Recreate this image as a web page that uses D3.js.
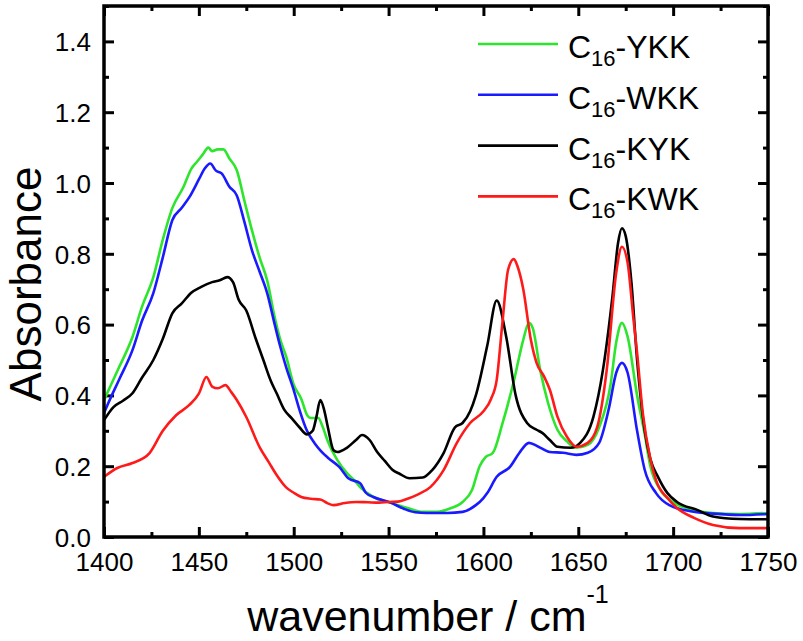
<!DOCTYPE html>
<html>
<head>
<meta charset="utf-8">
<script src="https://cdn.jsdelivr.net/npm/d3@7"></script>
<style>
  body { margin: 0; background: #fff; }
  svg text { font-family: "Liberation Sans", Arial, sans-serif; fill: #000; }
</style>
</head>
<body>
<svg id="mainFrame"></svg>
<script>
// spectra: [wavenumber, absorbance]
const ykk = [[1400,0.385],[1402,0.41],[1408,0.48],[1415,0.565],[1420,0.65],[1426,0.734],[1431,0.84],
  [1436,0.929],[1442,0.99],[1446,1.04],[1449,1.06],[1452,1.08],[1455,1.10],[1457,1.09],[1460,1.095],
  [1463,1.095],[1466,1.07],[1470,1.036],[1474,0.95],[1478,0.866],[1482,0.79],[1486,0.725],[1490,0.62],
  [1493,0.556],[1496,0.51],[1500,0.43],[1504,0.39],[1507,0.345],[1509,0.336],[1513,0.336],[1515,0.315],
  [1518,0.27],[1523,0.217],[1528,0.181],[1532,0.16],[1535,0.141],[1542,0.113],[1551,0.097],[1560,0.082],
  [1568,0.071],[1576,0.071],[1582,0.08],[1589,0.099],[1594,0.133],[1598,0.20],[1601,0.225],[1605,0.238],
  [1610,0.32],[1616,0.44],[1621,0.557],[1624,0.605],[1626,0.59],[1630,0.47],[1634,0.38],[1639,0.303],
  [1644,0.27],[1649,0.252],[1655,0.26],[1661,0.31],[1667,0.43],[1670,0.55],[1673,0.605],[1676,0.566],
  [1681,0.40],[1685,0.29],[1688,0.20],[1693,0.135],[1700,0.098],[1709,0.078],[1721,0.068],[1735,0.065],[1750,0.068]];

const wkk = [[1400,0.35],[1402,0.375],[1408,0.445],[1415,0.528],[1420,0.61],[1426,0.689],[1431,0.79],
  [1436,0.895],[1441,0.93],[1445,0.96],[1450,1.01],[1453,1.04],[1456,1.055],[1459,1.035],[1462,1.027],
  [1466,0.99],[1470,0.965],[1474,0.89],[1478,0.81],[1482,0.75],[1486,0.689],[1490,0.60],[1493,0.536],
  [1496,0.48],[1500,0.415],[1503,0.36],[1507,0.30],[1511,0.265],[1514,0.245],[1518,0.224],[1524,0.198],
  [1529,0.165],[1535,0.152],[1538,0.125],[1542,0.113],[1551,0.097],[1558,0.08],[1564,0.07],[1570,0.068],
  [1581,0.068],[1589,0.071],[1596,0.09],[1600,0.11],[1602,0.124],[1607,0.17],[1614,0.198],[1619,0.238],
  [1624,0.266],[1629,0.255],[1635,0.24],[1642,0.238],[1649,0.232],[1655,0.238],[1661,0.266],[1666,0.36],
  [1670,0.464],[1673,0.492],[1676,0.464],[1681,0.30],[1685,0.19],[1691,0.124],[1698,0.09],[1710,0.072],
  [1721,0.066],[1735,0.062],[1750,0.065]];

const kyk = [[1400,0.33],[1405,0.367],[1410,0.385],[1415,0.406],[1420,0.45],[1426,0.50],[1431,0.56],
  [1436,0.632],[1441,0.66],[1446,0.69],[1451,0.706],[1457,0.72],[1461,0.725],[1465,0.734],[1468,0.72],
  [1471,0.67],[1475,0.64],[1480,0.56],[1484,0.50],[1488,0.44],[1491,0.406],[1495,0.36],[1499,0.335],
  [1503,0.31],[1507,0.29],[1510,0.30],[1512,0.34],[1514,0.387],[1516,0.36],[1518,0.31],[1521,0.245],
  [1523,0.24],[1528,0.252],[1533,0.275],[1536,0.288],[1540,0.274],[1544,0.24],[1548,0.215],[1552,0.19],
  [1556,0.178],[1561,0.166],[1568,0.168],[1573,0.189],[1579,0.237],[1585,0.31],[1589,0.322],[1593,0.355],
  [1596,0.40],[1602,0.54],[1607,0.668],[1612,0.566],[1617,0.40],[1623,0.322],[1628,0.303],[1631,0.294],
  [1635,0.274],[1639,0.255],[1646,0.252],[1651,0.266],[1658,0.34],[1663,0.472],[1668,0.679],[1671,0.832],
  [1673,0.872],[1675,0.85],[1678,0.72],[1681,0.50],[1685,0.30],[1688,0.22],[1692,0.17],[1697,0.124],
  [1702,0.099],[1713,0.076],[1721,0.058],[1735,0.051],[1750,0.05]];

const kwk = [[1400,0.17],[1407,0.195],[1415,0.209],[1424,0.237],[1431,0.30],[1438,0.344],[1445,0.373],
  [1450,0.405],[1454,0.452],[1457,0.425],[1460,0.42],[1464,0.429],[1467,0.41],[1470,0.387],[1475,0.339],
  [1482,0.254],[1487,0.21],[1491,0.175],[1496,0.14],[1500,0.125],[1504,0.113],[1509,0.108],[1514,0.106],
  [1518,0.095],[1521,0.09],[1527,0.096],[1533,0.099],[1539,0.098],[1545,0.097],[1550,0.099],[1555,0.10],
  [1560,0.108],[1565,0.119],[1572,0.141],[1579,0.189],[1586,0.266],[1593,0.322],[1600,0.355],[1604,0.39],
  [1607,0.444],[1610,0.605],[1613,0.755],[1616,0.785],[1618,0.764],[1621,0.70],[1625,0.557],[1628,0.492],
  [1632,0.453],[1635,0.416],[1639,0.34],[1644,0.283],[1649,0.255],[1655,0.266],[1660,0.311],[1665,0.472],
  [1670,0.747],[1673,0.82],[1676,0.775],[1679,0.62],[1681,0.52],[1684,0.35],[1688,0.22],[1691,0.16],
  [1697,0.11],[1702,0.082],[1711,0.054],[1721,0.034],[1735,0.025],[1750,0.025]];

const seriesNames = ['YKK', 'WKK', 'KYK', 'KWK'];
const seriesColors = ['#2ee52e', '#1a1aff', '#000000', '#ff1a1a'];
const seriesData = [ykk, wkk, kyk, kwk];

const xTicks = [1400, 1450, 1500, 1550, 1600, 1650, 1700, 1750];
const xMinor = [1425, 1475, 1525, 1575, 1625, 1675, 1725];
const yTicks = [0.0, 0.2, 0.4, 0.6, 0.8, 1.0, 1.2, 1.4];
const yMinor = [0.1, 0.3, 0.5, 0.7, 0.9, 1.1, 1.3, 1.5];

const width = 803, height = 641;
const margin = { top: 6, right: 35, bottom: 104, left: 104 };
const plotW = width - margin.left - margin.right;
const plotH = height - margin.top - margin.bottom;

const svg = d3.select('#mainFrame')
  .attr('width', width)
  .attr('height', height);

const g = svg.append('g')
  .attr('transform', `translate(${margin.left},${margin.top})`);

const x = d3.scaleLinear().domain([1400, 1750]).range([0, plotW]);
const y = d3.scaleLinear().domain([0, 1.5]).range([plotH, 0]);

// ticks, all pointing inward
const tickAxis = (axis, vals, size) => axis.tickValues(vals).tickSize(size).tickFormat('');
const styleTicks = sel => {
  sel.select('.domain').remove();
  sel.selectAll('line').attr('stroke', '#000').attr('stroke-width', 3);
};

g.append('g').attr('transform', `translate(0,${plotH})`)
  .call(tickAxis(d3.axisBottom(x), xTicks, -10)).call(styleTicks);
g.append('g').attr('transform', `translate(0,${plotH})`)
  .call(tickAxis(d3.axisBottom(x), xMinor, -5)).call(styleTicks);
g.append('g')
  .call(tickAxis(d3.axisTop(x), xTicks, -10)).call(styleTicks);
g.append('g')
  .call(tickAxis(d3.axisTop(x), xMinor, -5)).call(styleTicks);
g.append('g')
  .call(tickAxis(d3.axisLeft(y), yTicks, -10)).call(styleTicks);
g.append('g')
  .call(tickAxis(d3.axisLeft(y), yMinor, -5)).call(styleTicks);
g.append('g').attr('transform', `translate(${plotW},0)`)
  .call(tickAxis(d3.axisRight(y), yTicks, -10)).call(styleTicks);
g.append('g').attr('transform', `translate(${plotW},0)`)
  .call(tickAxis(d3.axisRight(y), yMinor, -5)).call(styleTicks);

// tick labels
const xLab = g.append('g').attr('transform', `translate(0,${plotH})`)
  .call(d3.axisBottom(x).tickValues(xTicks).tickSize(0).tickFormat(d3.format('d')));
xLab.select('.domain').remove();
xLab.selectAll('text')
  .attr('y', 34).attr('dy', 0)
  .style('font-size', '26px');

const yLab = g.append('g')
  .call(d3.axisLeft(y).tickValues(yTicks).tickSize(0).tickFormat(d3.format('.1f')));
yLab.select('.domain').remove();
yLab.selectAll('text')
  .attr('x', -13).attr('dy', '0.36em')
  .style('font-size', '26px');

// curves
g.append('clipPath').attr('id', 'plotClip')
  .append('rect').attr('width', plotW).attr('height', plotH);

const line = d3.line()
  .x(d => x(d[0]))
  .y(d => y(d[1]))
  .curve(d3.curveMonotoneX);

g.append('g').attr('clip-path', 'url(#plotClip)')
  .selectAll('path')
  .data(seriesData)
  .join('path')
  .attr('d', line)
  .attr('fill', 'none')
  .attr('stroke', (d, i) => seriesColors[i])
  .attr('stroke-width', 2.6)
  .attr('stroke-linejoin', 'round');

// frame
g.append('rect')
  .attr('width', plotW).attr('height', plotH)
  .attr('fill', 'none')
  .attr('stroke', '#000')
  .attr('stroke-width', 3.5);

// legend
const legend = g.append('g').attr('transform', 'translate(374,38)');
const rows = legend.selectAll('g')
  .data(seriesNames)
  .join('g')
  .attr('transform', (d, i) => `translate(0,${i * 50.8})`);

rows.append('line')
  .attr('x1', 0).attr('x2', 80)
  .attr('stroke', (d, i) => seriesColors[i])
  .attr('stroke-width', 2.6);

const legText = rows.append('text')
  .attr('x', 90).attr('y', 14)
  .style('font-size', '32px');
legText.append('tspan').text('C');
legText.append('tspan').text('16')
  .style('font-size', '22px').attr('dy', 8);
legText.append('tspan').text(d => '-' + d)
  .attr('dy', -8);

// axis titles
svg.append('text')
  .attr('transform', 'translate(41,284) rotate(-90)')
  .attr('text-anchor', 'middle')
  .style('font-size', '44px')
  .text('Absorbance');

const xTitle = svg.append('text')
  .attr('x', 428).attr('y', 631)
  .attr('text-anchor', 'middle')
  .style('font-size', '43px');
xTitle.append('tspan').text('wavenumber / cm');
xTitle.append('tspan').text('-1')
  .style('font-size', '25px').attr('dy', -28);
</script>
</body>
</html>
